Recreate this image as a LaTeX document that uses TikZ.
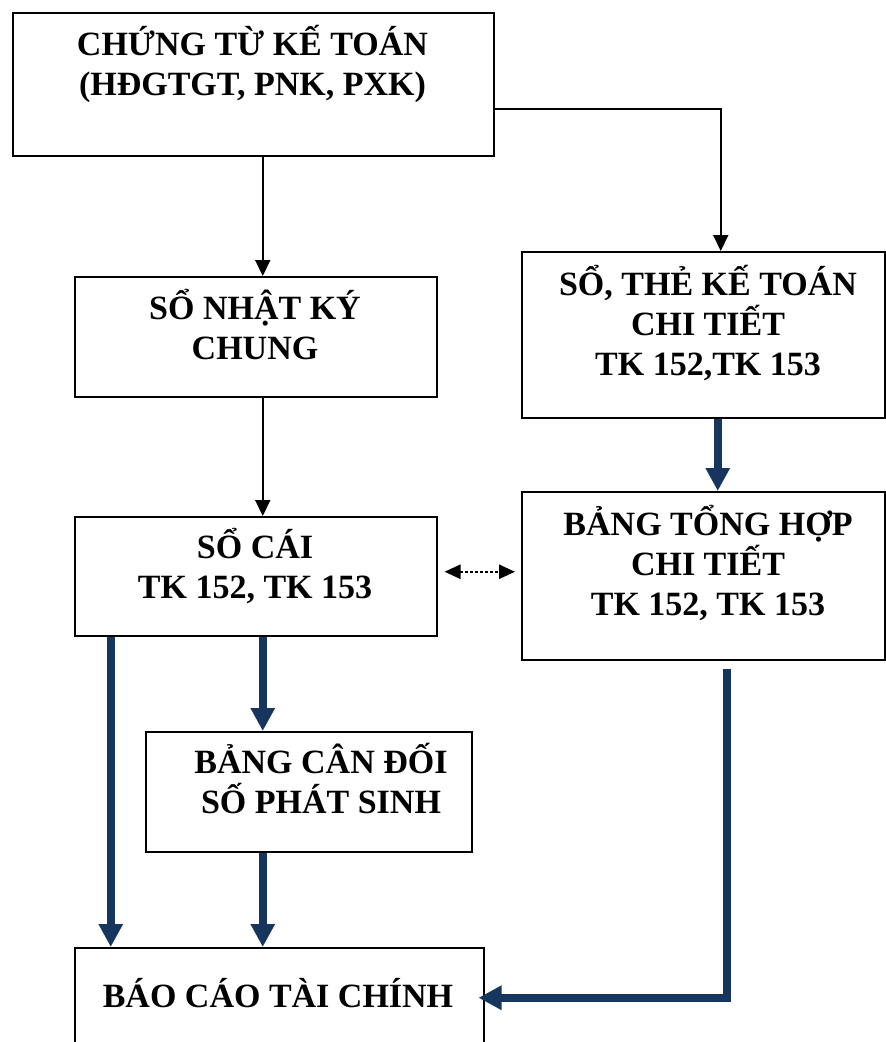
\documentclass[tikz,border=0pt]{standalone}
\usepackage{fontspec}
\setmainfont{Liberation Serif}
\usepackage{xcolor}
\usepackage{tikz}
\usetikzlibrary{arrows.meta, positioning}

\definecolor{navy}{RGB}{23,54,93}

\begin{document}
\begin{tikzpicture}[x=1pt, y=-1pt,
    box/.style={draw, line width=1.5pt, anchor=north west, inner sep=0pt},
    txt/.style={anchor=base, align=center, inner sep=0pt,
      font=\fontsize{34}{40}\selectfont\bfseries},
    thinarr/.style={line width=2pt, -{Triangle[width=15pt, length=16pt]}},
    thickarr/.style={navy, line width=7.5pt, -{Triangle[width=23pt, length=23pt]}},
    dotarr/.style={line width=2.5pt, dash pattern=on 3pt off 2pt,
      {Triangle[width=14pt, length=16pt]}-{Triangle[width=14pt, length=16pt]}}]
    \useasboundingbox (0,0) rectangle (886,1042);
    \clip (0,0) rectangle (886,1042);

    % boxes
    \node[box, minimum width=481pt, minimum height=143pt] (ct) at (12,12) {};
    \node[box, minimum width=362pt, minimum height=120pt] (nkc) at (74,276) {};
    \node[box, minimum width=363pt, minimum height=166pt] (stct) at (521,251) {};
    \node[box, minimum width=362pt, minimum height=119pt] (sc) at (74,516) {};
    \node[box, minimum width=363pt, minimum height=168pt] (bth) at (521,491) {};
    \node[box, minimum width=326pt, minimum height=120pt] (bcd) at (145,731) {};
    \node[box, minimum width=409pt, minimum height=100pt] (bctc) at (74,947) {};

    % texts (base = last line)
    \node[txt] (ct-t) at (252.5,95) {CHỨNG TỪ KẾ TOÁN\\(HĐGTGT, PNK, PXK)};
    \node[txt] (nkc-t) at (255,359) {SỔ NHẬT KÝ\\CHUNG};
    \node[txt] (stct-t) at (708,375) {SỔ, THẺ KẾ TOÁN\\CHI TIẾT\\TK 152,TK 153};
    \node[txt] (sc-t) at (255,598) {SỔ CÁI\\TK 152, TK 153};
    \node[txt] (bth-t) at (708,615) {BẢNG TỔNG HỢP\\CHI TIẾT\\TK 152, TK 153};
    \node[txt] (bcd-t) at (321,813) {BẢNG CÂN ĐỐI\\SỐ PHÁT SINH};
    \node[txt] (bctc-t) at (278,1007) {BÁO CÁO TÀI CHÍNH};

    % thin arrows
    \draw[thinarr] ([xshift=9.5pt]ct.south) -- ([xshift=9.5pt]ct.south |- nkc.north);
    \draw[thinarr] ([yshift=-24.5pt]ct.east) -| ([xshift=17.5pt]stct.north);
    \draw[thinarr] ([xshift=7pt]nkc.south) -- ([xshift=7pt]nkc.south |- sc.north);
    \draw[dotarr, shorten <=7pt, shorten >=6pt]
      ([yshift=4.5pt]sc.east) -- ([yshift=4.5pt]sc.east -| bth.west);

    % thick arrows
    \draw[thickarr] ([xshift=14.5pt]stct.south) -- ([xshift=14.5pt]bth.north);
    \draw[thickarr] ([xshift=-145pt]sc.south) -- ([xshift=-145pt]sc.south |- bctc.north);
    \draw[thickarr] ([xshift=7pt]sc.south) -- ([xshift=7pt]sc.south |- bcd.north);
    \draw[thickarr] ([xshift=-46pt]bcd.south) -- ([xshift=-46pt]bcd.south |- bctc.north);
    \draw[thickarr, shorten <=8pt, shorten >=-6pt]
      ([xshift=23.5pt]bth.south) |- (bctc.east);
\end{tikzpicture}
\end{document}
